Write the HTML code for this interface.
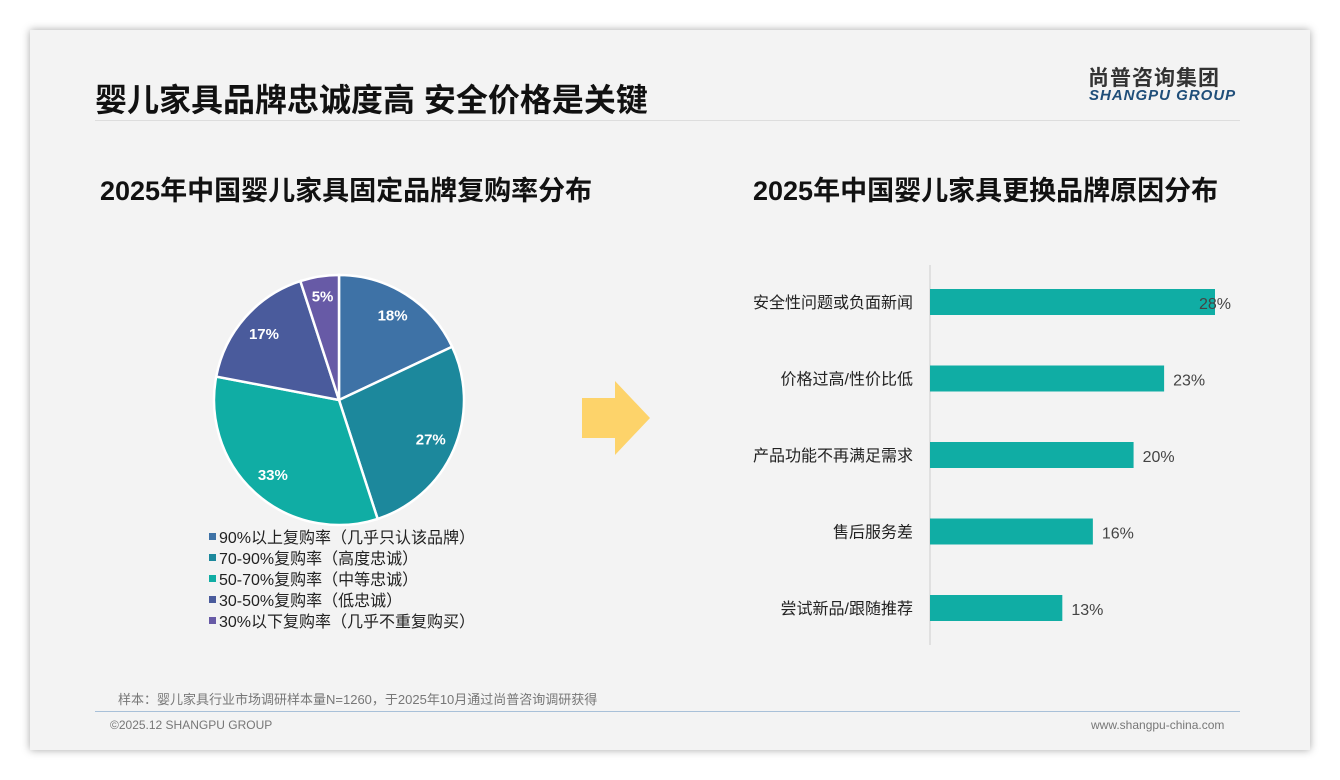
<!DOCTYPE html>
<html><head><meta charset="utf-8"><style>
body{margin:0;width:1340px;height:780px;background:#fff;font-family:"Liberation Sans","Noto Sans CJK SC",sans-serif;overflow:hidden}
#card{position:absolute;left:30px;top:30px;width:1280px;height:720px;background:#f3f3f3;box-shadow:0 0 8px rgba(0,0,0,.35)}
.abs{position:absolute}
</style></head><body>
<div id="card"></div>
<div class="abs" style="left:95px;top:75px;font-size:32px;font-weight:bold;color:#111">婴儿家具品牌忠诚度高 安全价格是关键</div>
<div class="abs" style="left:1088px;top:62px;font-size:21px;font-weight:bold;color:#333;letter-spacing:1px">尚普咨询集团</div>
<div class="abs" style="left:1089px;top:87px;font-size:15px;font-weight:bold;font-style:italic;color:#1f4e79;letter-spacing:1px">SHANGPU GROUP</div>
<div class="abs" style="left:95px;top:120px;width:1145px;height:1px;background:#ddd"></div>
<div class="abs" style="left:100px;top:169px;font-size:27px;font-weight:bold;color:#111">2025年中国婴儿家具固定品牌复购率分布</div>
<div class="abs" style="left:753px;top:169px;font-size:27px;font-weight:bold;color:#111">2025年中国婴儿家具更换品牌原因分布</div>
<svg class="abs" style="left:0;top:0" width="1340" height="780">
<polygon points="582,398 615,398 615,381 650,418 615,455 615,438 582,438" fill="#fdd36a"/>
<g id="pie"></g><g id="legend"></g><g id="bars"></g>
</svg>
<div class="abs" style="left:118px;top:689px;font-size:13px;color:#777">样本：婴儿家具行业市场调研样本量N=1260，于2025年10月通过尚普咨询调研获得</div>
<div class="abs" style="left:95px;top:711px;width:1145px;height:1px;background:#a8c0d8"></div>
<div class="abs" style="left:110px;top:718px;font-size:12px;color:#777">©2025.12 SHANGPU GROUP</div>
<div class="abs" style="left:1091px;top:718px;font-size:12px;color:#777">www.shangpu-china.com</div>
<script>
const pieLabels=["90%以上复购率（几乎只认该品牌）","70-90%复购率（高度忠诚）","50-70%复购率（中等忠诚）","30-50%复购率（低忠诚）","30%以下复购率（几乎不重复购买）"];
const pieValues=[18,27,33,17,5];
const pieColors=["#3e72a6","#1c889c","#10ada4","#4a5b9c","#675aa6"];
const barCats=["安全性问题或负面新闻","价格过高/性价比低","产品功能不再满足需求","售后服务差","尝试新品/跟随推荐"];
const barValues=[28,23,20,16,13];
const NS="http://www.w3.org/2000/svg";
function mk(t,a,p){const e=document.createElementNS(NS,t);for(const k in a)e.setAttribute(k,a[k]);p.appendChild(e);return e;}
const cx=339,cy=400,r=125,tot=pieValues.reduce((a,b)=>a+b,0);
let ang=0;const pie=document.getElementById('pie');
pieValues.forEach((v,i)=>{const a0=ang,a1=ang+v/tot*2*Math.PI;ang=a1;
const x0=cx+r*Math.sin(a0),y0=cy-r*Math.cos(a0),x1=cx+r*Math.sin(a1),y1=cy-r*Math.cos(a1);
const p=mk('path',{d:`M${cx},${cy}L${x0},${y0}A${r},${r} 0 ${a1-a0>Math.PI?1:0} 1 ${x1},${y1}Z`,fill:pieColors[i],stroke:'#fff','stroke-width':2.5},pie);


const m=(a0+a1)/2,lr=v<8?0.84*r:0.8*r;
const t=mk('text',{x:cx+lr*Math.sin(m),y:cy-lr*Math.cos(m)+5,'text-anchor':'middle','font-size':15,'font-weight':'bold',fill:'#fff'},pie);
t.textContent=v+'%';

});
const lg=document.getElementById('legend');
pieLabels.forEach((l,i)=>{const y=537+i*21;
const s=mk('rect',{x:209,y:y-4,width:7,height:7,fill:pieColors[i]},lg);


const t=mk('text',{x:219,y:y+6,'font-size':16,fill:'#222'},lg);t.textContent=l;

});
const bars=document.getElementById('bars');const x0=930,scale=285/28;
const ax=mk('line',{x1:x0,y1:265,x2:x0,y2:645,stroke:'#ccc'},bars);


barCats.forEach((c,i)=>{const y=302+i*76.5;const w=barValues[i]*scale;
const b=mk('rect',{x:x0,y:y-13,width:w,height:26,fill:'#10ada4'},bars);


const t=mk('text',{x:913,y:y+6,'text-anchor':'end','font-size':16,fill:'#222'},bars);t.textContent=c;


const v=mk('text',{x:Math.min(x0+w+9,1199),y:y+7,'font-size':16,fill:'#444'},bars);v.textContent=barValues[i]+'%';

});
</script>
</body></html>
